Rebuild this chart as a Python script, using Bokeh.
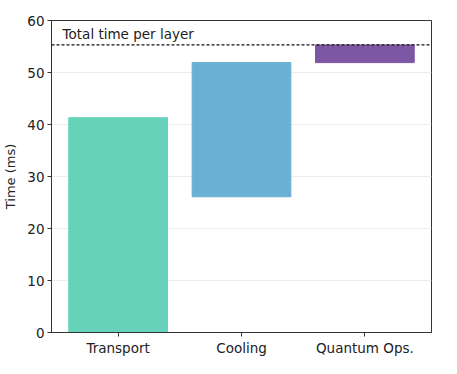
from bokeh.plotting import figure
from bokeh.models import ColumnDataSource, FixedTicker, Span, Label, Range1d
from bokeh.embed import file_html
from bokeh.resources import INLINE

categories = ["Transport", "Cooling", "Quantum Ops."]
bottoms = [0.0, 26.1, 51.9]
tops = [41.3, 51.9, 55.3]
colors = ["#66d2b9", "#6aafd4", "#7e57a4"]
total_time = 55.3
y_ticks = [0, 10, 20, 30, 40, 50, 60]

FONT = "DejaVu Sans"

p = figure(width=441, height=358, output_backend="svg", toolbar_location=None,
           x_range=Range1d(-0.54, 2.54), y_range=Range1d(0, 60),
           min_border_left=41, min_border_right=10, min_border_top=20, min_border_bottom=26)

src = ColumnDataSource(dict(x=list(range(len(categories))), bottom=bottoms, top=tops, color=colors))
p.vbar(x="x", width=0.8, bottom="bottom", top="top", color="color", source=src)

p.add_layout(Span(location=total_time, dimension="width", line_color="#111111",
                  line_dash="3 2", line_width=1.2))
p.add_layout(Label(x=-0.45, y=total_time + 0.5, text="Total time per layer",
                   text_font=FONT, text_font_size="13.5px", text_color="#222222"))

p.xaxis.ticker = FixedTicker(ticks=list(range(len(categories))))
p.xaxis.major_label_overrides = {i: c for i, c in enumerate(categories)}
p.yaxis.ticker = FixedTicker(ticks=y_ticks)
p.yaxis.axis_label = "Time (ms)"

for ax in (p.xaxis, p.yaxis):
    ax.major_label_text_font = FONT
    ax.major_label_text_font_size = "13.5px"
    ax.major_label_text_color = "#222222"
    ax.axis_label_text_font = FONT
    ax.axis_label_text_font_size = "13px"
    ax.axis_label_text_font_style = "normal"
    ax.axis_label_text_color = "#222222"
    ax.axis_line_color = "#333333"
    ax.major_tick_line_color = "#333333"
    ax.major_tick_in = 0
    ax.major_tick_out = 4
    ax.minor_tick_line_color = None
    ax.major_label_standoff = 3
p.yaxis.axis_label_standoff = 6

p.xgrid.grid_line_color = None
p.ygrid.grid_line_color = "#ebebeb"
p.ygrid.grid_line_width = 1
p.outline_line_color = "#333333"
p.outline_line_alpha = 1
p.outline_line_width = 1

open("out.html", "w").write(file_html(p, INLINE))
